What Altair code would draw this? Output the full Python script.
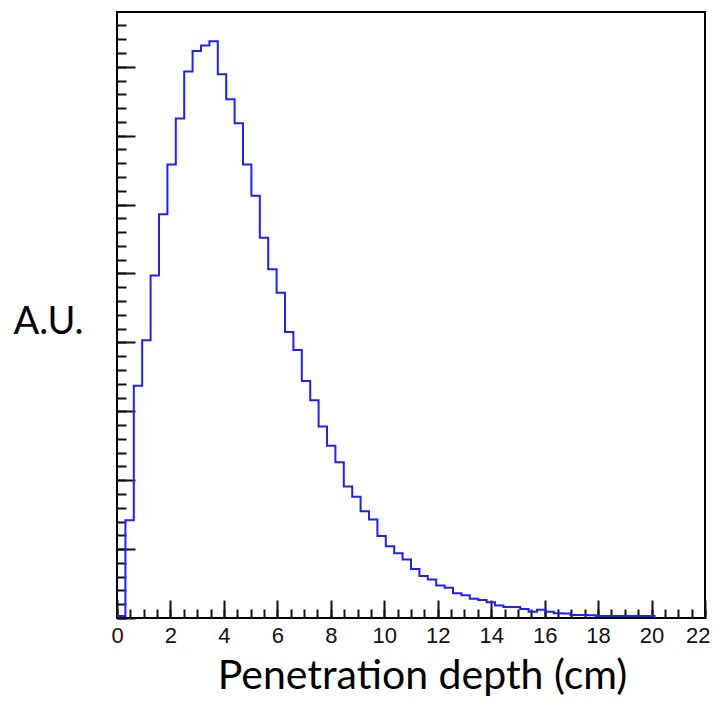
import altair as alt
import pandas as pd

# Histogram: 70 bins over 0-22 cm; only the first 64 bins carry entries
bin_width = 22 / 70
counts = [0.03, 1.42, 3.37, 4.03, 4.97, 5.86, 6.58, 7.25, 7.93, 8.23,
          8.31, 8.37, 7.89, 7.53, 7.18, 6.58, 6.13, 5.52, 5.06, 4.72,
          4.15, 3.89, 3.44, 3.16, 2.78, 2.50, 2.26, 1.91, 1.76, 1.55,
          1.43, 1.19, 1.04, 0.94, 0.85, 0.71, 0.61, 0.56, 0.47, 0.44,
          0.36, 0.33, 0.28, 0.26, 0.23, 0.18, 0.16, 0.16, 0.13, 0.09,
          0.12, 0.09, 0.07, 0.065, 0.045, 0.045, 0.04, 0.03, 0.03, 0.03,
          0.03, 0.03, 0.03, 0.03]

x_major = [0, 2, 4, 6, 8, 10, 12, 14, 16, 18, 20, 22]
x_minor = [i * 0.5 for i in range(45)]
y_major = [0, 1, 2, 3, 4, 5, 6, 7, 8]
y_minor = [round(i * 0.2, 1) for i in range(44)]

edges = [i * bin_width for i in range(len(counts) + 1)]
df = pd.DataFrame({"x": edges, "y": counts + [0.0]})

W, H = 588, 606
xscale = alt.Scale(domain=[0, 22], nice=False, zero=False)
yscale = alt.Scale(domain=[0, 8.795], nice=False, zero=False)

main = alt.Chart(df).mark_line(interpolate="step-after", color="#1f1fff", strokeWidth=2).encode(
    x=alt.X("x:Q", scale=xscale, axis=alt.Axis(
        orient="bottom", values=x_major, ticks=False, domain=False, grid=False,
        labelFlush=False, labelOverlap=False, labelFont="Liberation Sans", labelFontSize=22,
        labelColor="#111111", labelPadding=7, format="d",
        labelAlign={"condition": {"test": "datum.value == 22", "value": "right"}, "value": "center"},
        labelOffset={"condition": {"test": "datum.value == 22", "value": 5}, "value": 0},
        title="Penetration depth (cm)", titleFont="Lato", titleFontSize=41,
        titleFontWeight="normal", titleColor="black", titleX=305, titleY=70,
        titleAlign="center", titleBaseline="alphabetic")),
    y=alt.Y("y:Q", scale=yscale, axis=alt.Axis(
        orient="left", ticks=False, labels=False, domain=False, grid=False,
        title="A.U.", titleAngle=0, titleX=-69, titleY=310, titleAlign="center",
        titleBaseline="middle", titleFont="Lato", titleFontSize=38,
        titleFontWeight="normal", titleColor="black")),
)

def tick_layer(xv, yv, size):
    return alt.Chart(df).mark_line(opacity=0).encode(
        x=alt.X("x:Q", scale=xscale, axis=alt.Axis(
            orient="top", offset=-H, values=xv, tickSize=size, tickWidth=2,
            tickColor="#111111", labels=False, domain=False, grid=False, title=None)),
        y=alt.Y("y:Q", scale=yscale, axis=alt.Axis(
            orient="right", offset=-W, values=yv, tickSize=size, tickWidth=2,
            tickColor="#111111", labels=False, domain=False, grid=False, title=None)),
    )

major = tick_layer(x_major, y_major, 18)
minor = tick_layer(x_minor, y_minor, 9)

chart = alt.layer(main, major, minor).resolve_axis(
    x="independent", y="independent"
).properties(
    width=W, height=H, autosize="none",
    padding={"left": 109, "top": 4, "right": 5, "bottom": 78},
).configure_view(stroke="black", strokeWidth=2)

chart.save("out.html", embed_options={"renderer": "svg", "actions": False})
